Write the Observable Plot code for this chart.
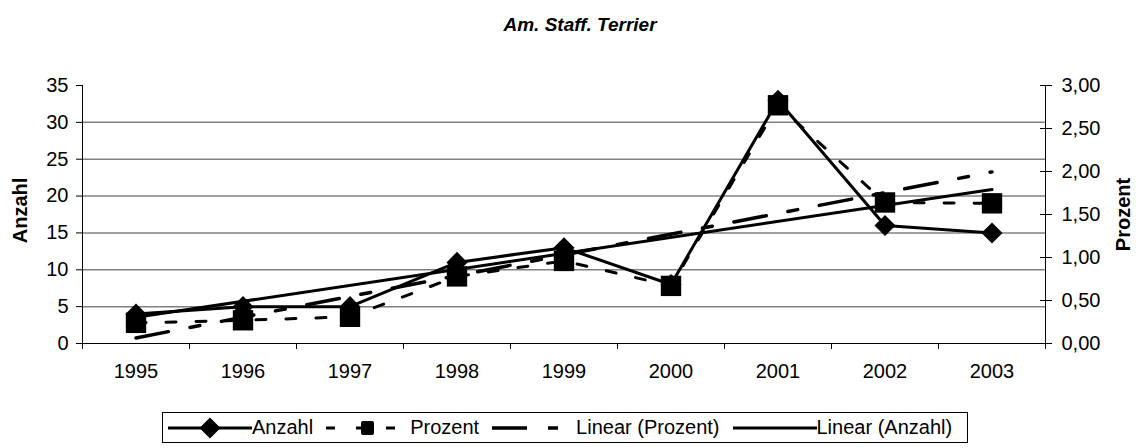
<!DOCTYPE html>
<html>
<head>
<meta charset="utf-8">
<script src="https://cdn.jsdelivr.net/npm/d3@7"></script>
<script src="https://cdn.jsdelivr.net/npm/@observablehq/plot@0.6"></script>
<style>
  html, body { margin: 0; padding: 0; background: #fff; }
  #wrap { position: relative; width: 1136px; height: 448px; overflow: hidden; font-family: Arial, "Liberation Sans", sans-serif; }
  #wrap svg.plot { position: absolute; left: 0; top: 0; }
  #legend { position: absolute; left: 162px; top: 412px; width: 806px; height: 31px; border: 1px solid #000; box-sizing: border-box;
            display: flex; align-items: center; font-size: 20px; color: #000; }
  #legend .item { display: flex; align-items: center; }
  #legend svg { display: block; }
</style>
</head>
<body>
<div id="wrap"><div id="legend"></div></div>
<script>
// ---- data ----
const years = [1995, 1996, 1997, 1998, 1999, 2000, 2001, 2002, 2003];
const anzahl = [4, 5, 5, 11, 13, 8, 33, 16, 15];
const prozent = [0.24, 0.27, 0.31, 0.78, 0.96, 0.67, 2.77, 1.64, 1.63];
const leftTicks = [0, 5, 10, 15, 20, 25, 30, 35];
const rightTicks = [0, 0.5, 1, 1.5, 2, 2.5, 3];
const seriesNames = ["Anzahl", "Prozent", "Linear (Prozent)", "Linear (Anzahl)"];
const title = "Am. Staff. Terrier";

// ---- derived ----
const leftMax = leftTicks[leftTicks.length - 1];
const rightMax = rightTicks[rightTicks.length - 1];
const k = leftMax / rightMax; // maps Prozent onto the Anzahl scale
const rows = years.map((y, i) => ({year: y, anzahl: anzahl[i], prozent: prozent[i]}));
const bounds = [...years.map(y => y - 0.5), years[years.length - 1] + 0.5];
const xDomain = [bounds[0], bounds[bounds.length - 1]];
const fmtP = v => (v / k).toFixed(2).replace(".", ",");

const dashP = "10,20";
const dashLP = "33,22,10,22";

const chart = Plot.plot({
  width: 1136,
  height: 448,
  marginLeft: 82,
  marginRight: 91,
  marginTop: 85,
  marginBottom: 105,
  style: {fontFamily: 'Arial, "Liberation Sans", sans-serif', fontSize: "20px", color: "#000", background: "transparent"},
  x: {type: "linear", domain: xDomain},
  y: {type: "linear", domain: [0, leftMax]},
  marks: [
    Plot.gridY(leftTicks.slice(1, -1), {stroke: "#808080", strokeOpacity: 1, strokeWidth: 1.5}),
    Plot.ruleX(xDomain, {stroke: "#000", strokeWidth: 1}),
    Plot.ruleY([0], {stroke: "#000", strokeWidth: 1.2}),
    Plot.axisY({anchor: "left", ticks: leftTicks, tickSize: 6, tickPadding: 8, label: null, tickFormat: d => String(d)}),
    Plot.axisY({anchor: "right", ticks: rightTicks.map(v => v * k), tickSize: 6, tickPadding: 10, label: null, tickFormat: fmtP}),
    Plot.axisY({anchor: "right", ticks: rightTicks.map(v => v * k), tickSize: -6, label: null, tickFormat: () => ""}),
    Plot.axisX({ticks: bounds, tickSize: 6, label: null, tickFormat: () => ""}),
    Plot.axisX({ticks: years, tickSize: 0, tickPadding: 20, label: null, tickFormat: d => String(d)}),
    // trend lines
    Plot.linearRegressionY(rows, {x: "year", y: d => d.prozent * k, ci: 0, stroke: "#000", strokeWidth: 3.5, strokeDasharray: dashLP}),
    Plot.linearRegressionY(rows, {x: "year", y: "anzahl", ci: 0, stroke: "#000", strokeWidth: 3}),
    // series
    Plot.line(rows, {x: "year", y: "anzahl", stroke: "#000", strokeWidth: 3}),
    Plot.dot(rows, {x: "year", y: "anzahl", symbol: "diamond2", r: 9.5, fill: "#000", stroke: "none"}),
    Plot.line(rows, {x: "year", y: d => d.prozent * k, stroke: "#000", strokeWidth: 3, strokeDasharray: dashP}),
    Plot.dot(rows, {x: "year", y: d => d.prozent * k, symbol: "square", r: 11.5, fill: "#000", stroke: "none"}),
    // titles
    Plot.text([title], {frameAnchor: "top", dy: -61, dx: 16, lineAnchor: "middle", textAnchor: "middle", fontWeight: "bold", fontStyle: "italic", fontSize: 19, fill: "#000"}),
    Plot.text([seriesNames[0]], {frameAnchor: "left", dx: -62, dy: -4, rotate: -90, textAnchor: "middle", lineAnchor: "middle", fontWeight: "bold", fontSize: 20, fill: "#000"}),
    Plot.text([seriesNames[1]], {frameAnchor: "right", dx: 78, rotate: -90, textAnchor: "middle", lineAnchor: "middle", fontWeight: "bold", fontSize: 20, fill: "#000"})
  ]
});
chart.classList.add("plot");
document.getElementById("wrap").prepend(chart);

// ---- legend ----
const legend = document.getElementById("legend");
function sample(kind) {
  const w = 84, h = 24, cy = h / 2;
  let s = `<svg width="${w}" height="${h}">`;
  if (kind === 0) {
    s += `<line x1="0" x2="${w}" y1="${cy}" y2="${cy}" stroke="#000" stroke-width="3"/>`;
    s += `<path d="M${w/2},${cy-10.5}L${w/2+10.5},${cy}L${w/2},${cy+10.5}L${w/2-10.5},${cy}Z" fill="#000"/>`;
  } else if (kind === 1) {
    s += `<line x1="0" x2="${w}" y1="${cy}" y2="${cy}" stroke="#000" stroke-width="3" stroke-dasharray="9,21"/>`;
    s += `<rect x="${w/2 - 7}" y="${cy - 7}" width="13" height="14" rx="2" fill="#000"/>`;
  } else if (kind === 2) {
    s += `<line x1="0" x2="${w}" y1="${cy}" y2="${cy}" stroke="#000" stroke-width="3.5" stroke-dasharray="35,21,10,21"/>`;
  } else {
    s += `<line x1="0" x2="${w}" y1="${cy}" y2="${cy}" stroke="#000" stroke-width="3"/>`;
  }
  return s + "</svg>";
}
legend.style.paddingLeft = "5px";
seriesNames.forEach((name, i) => {
  const it = document.createElement("div");
  it.className = "item";
  it.style.marginRight = i < seriesNames.length - 1 ? "13px" : "0";
  it.innerHTML = sample(i) + `<span style="white-space:nowrap">${name}</span>`;
  legend.appendChild(it);
});
</script>
</body>
</html>
